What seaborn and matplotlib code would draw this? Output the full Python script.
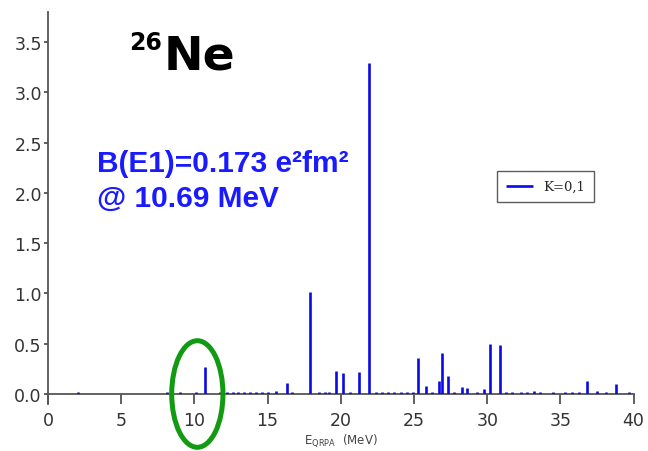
import matplotlib
matplotlib.use("Agg")
import matplotlib.pyplot as plt
from matplotlib.patches import Ellipse
import seaborn as sns

# QRPA E1 strength distribution for 26Ne (K=0,1)
energies = [2.07, 8.1, 9.0, 10.1, 10.69, 11.75, 12.2, 12.66, 13.0, 13.4, 13.8,
            14.2, 14.6, 15.0, 15.6, 16.3, 16.7, 17.9, 18.5, 18.9, 19.2, 19.65,
            20.17, 20.6, 21.24, 21.95, 22.4, 22.8, 23.2, 23.6, 24.1, 24.5, 24.9,
            25.3, 25.8, 26.2, 26.73, 26.9, 27.3, 27.7, 28.3, 28.6, 29.3, 29.8,
            30.17, 30.87, 31.3, 31.7, 32.3, 32.7, 33.2, 33.6, 34.5, 35.3, 35.8,
            36.3, 36.84, 37.5, 38.1, 38.8, 39.7]
strengths = [0.02, 0.015, 0.015, 0.015, 0.27, 0.015, 0.015, 0.015, 0.015, 0.015, 0.015,
             0.015, 0.015, 0.015, 0.03, 0.11, 0.015, 1.01, 0.015, 0.015, 0.015, 0.23,
             0.21, 0.015, 0.22, 3.29, 0.015, 0.015, 0.015, 0.015, 0.015, 0.015, 0.015,
             0.36, 0.08, 0.015, 0.13, 0.41, 0.18, 0.015, 0.07, 0.06, 0.015, 0.05,
             0.50, 0.49, 0.015, 0.015, 0.02, 0.015, 0.03, 0.015, 0.015, 0.015, 0.02,
             0.02, 0.13, 0.03, 0.015, 0.10, 0.015]
x_ticks = [0, 5, 10, 15, 20, 25, 30, 35, 40]
y_ticks = [0.0, 0.5, 1.0, 1.5, 2.0, 2.5, 3.0, 3.5]
series_label = "K=0,1"
nucleus_mass = "26"
nucleus_symbol = "Ne"
peak_note = ["B(E1)=0.173 e\u00b2fm\u00b2", "@ 10.69 MeV"]
highlight_energy = 10.2

sns.set_theme(style="ticks")
plt.rcParams["font.family"] = ["DejaVu Sans"]

W, H = 648, 452
fig = plt.figure(figsize=(W / 100, H / 100), dpi=100)
ax = fig.add_axes([48 / W, 1 - 395 / H, (633.6 - 48) / W, (395 - 13) / H])

stems = ax.vlines(energies, 0, strengths, color="#0a0ae6", linewidth=1.9,
                  label=series_label)

ax.set_xlim(0, 40)
ax.set_ylim(0, 3.8)
ax.set_xticks(x_ticks)
ax.set_yticks(y_ticks)
ax.set_yticklabels([f"{v:.1f}" for v in y_ticks])
sns.despine(ax=ax)
for side in ("left", "bottom"):
    ax.spines[side].set_color("#555555")
    ax.spines[side].set_linewidth(1.3)
ax.spines["left"].set_bounds(-0.1, 3.8)
ax.spines["left"].set_clip_on(False)
ax.spines["bottom"].set_zorder(1)
ax.tick_params(axis="x", direction="out", length=7, width=1.2, pad=5,
               color="#444444", labelsize=12.5, labelcolor="#333333")
ax.tick_params(axis="y", direction="out", length=3, width=1.2, pad=1.5,
               color="#444444", labelsize=12.5, labelcolor="#333333")

ax.set_xlabel(r"E$_{\mathregular{QRPA}}$  (MeV)", fontsize=8.5,
              color="#444444", labelpad=2)

leg = ax.legend(loc="upper left", bbox_to_anchor=((497 - 48) / 585.6, 1 - (172 - 13) / 382),
                borderaxespad=0, frameon=True, fancybox=False, handlelength=2.0,
                borderpad=0.7, prop={"family": "DejaVu Serif", "size": 9.5})
leg.get_frame().set_edgecolor("#333333")
leg.get_frame().set_linewidth(1.0)

# circled peak near the low-energy dipole mode
ax.add_patch(Ellipse((highlight_energy, 0.0), 3.5, 1.06, fill=False,
                     edgecolor="#129a12", linewidth=3.6, clip_on=False, zorder=5))

def px(x, y):
    return x / W, 1 - y / H

fig.text(*px(129, 50), nucleus_mass, fontsize=17, fontweight="bold",
         color="black", va="baseline")
fig.text(*px(164, 70), nucleus_symbol, fontsize=34, fontweight="bold",
         color="black", va="baseline")

fig.text(*px(97, 172), peak_note[0], fontsize=21.5, fontweight="bold",
         color="#1a1aff", va="baseline", family="Liberation Sans")
fig.text(*px(97, 207), peak_note[1], fontsize=21.5, fontweight="bold",
         color="#1a1aff", va="baseline", family="Liberation Sans")

fig.savefig("out.png", dpi=100)
